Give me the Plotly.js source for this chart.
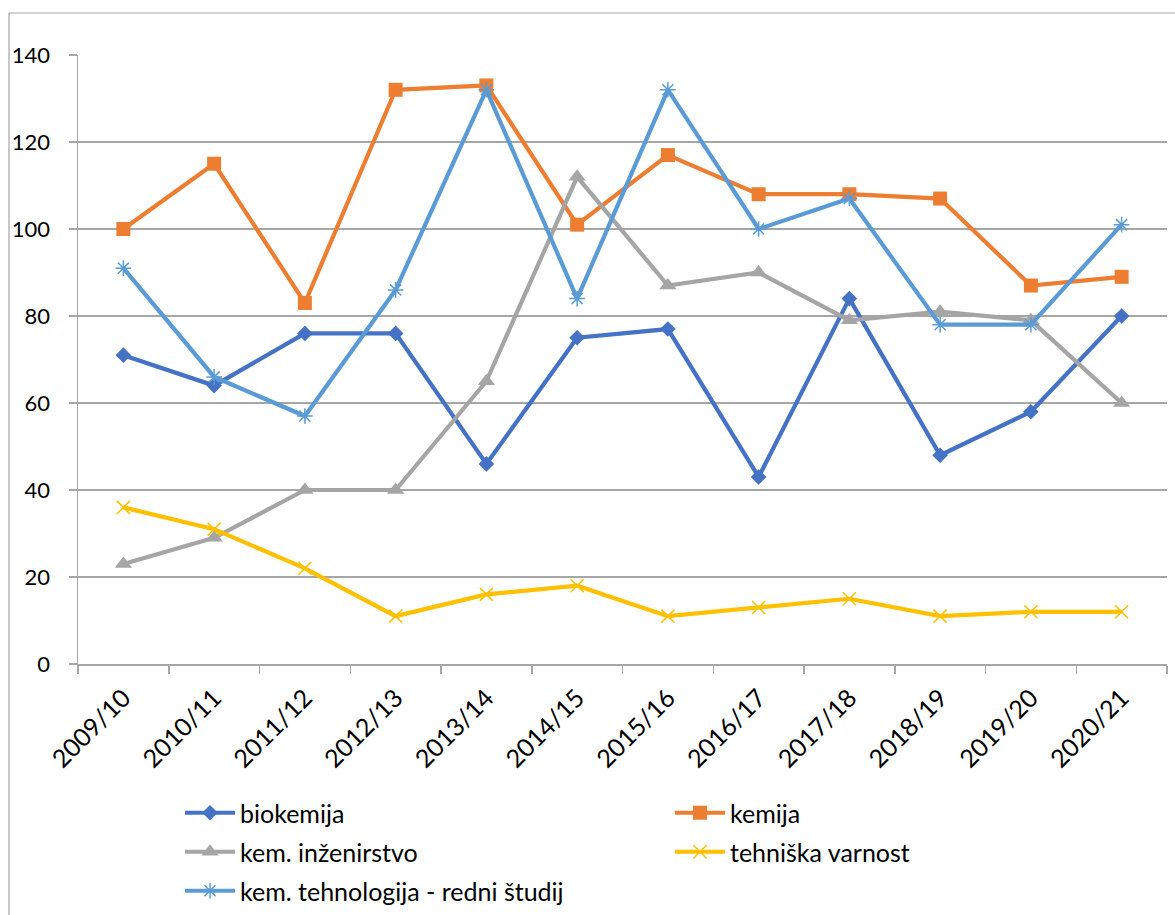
<!DOCTYPE html>
<html>
<head>
<meta charset="utf-8">
<script src="https://cdn.plot.ly/plotly-3.0.1.min.js"></script>
<style>html,body{margin:0;padding:0;background:#fff;}#chart{width:1175px;height:915px;}</style>
</head>
<body>
<div id="chart"></div>
<script>
const years = ["2009/10","2010/11","2011/12","2012/13","2013/14","2014/15","2015/16","2016/17","2017/18","2018/19","2019/20","2020/21"];
const biokemija = [71, 64, 76, 76, 46, 75, 77, 43, 84, 48, 58, 80];
const kemija = [100, 115, 83, 132, 133, 101, 117, 108, 108, 107, 87, 89];
const kemInzenirstvo = [23, 29, 40, 40, 65, 112, 87, 90, 79, 81, 79, 60];
const tehniskaVarnost = [36, 31, 22, 11, 16, 18, 11, 13, 15, 11, 12, 12];
const kemTehnologija = [91, 66, 57, 86, 132, 84, 132, 100, 107, 78, 78, 101];
const seriesNames = ["biokemija","kemija","kem. inženirstvo","tehniška varnost","kem. tehnologija - redni študij"];

const FONT = "Lato, 'Open Sans', sans-serif";
const W = 1175, H = 915, ML = 78, MR = 8, MT = 55, MB = 251;
const PW = W - ML - MR, PH = H - MT - MB;
const px2x = p => (p - ML) / PW;
const py2y = p => (H - MB - p) / PH;

function tr(y, name, color, symbol, msize, mline, legendId) {
  return {
    x: years, y: y, name: name, type: 'scatter', mode: 'lines+markers',
    line: {color: color, width: 4.2},
    marker: {symbol: symbol, size: msize, color: color, line: {color: color, width: mline}},
    legend: legendId
  };
}
const traces = [
  tr(biokemija, seriesNames[0], '#4472C4', 'diamond', 12, 0, 'legend'),
  tr(kemija, seriesNames[1], '#ED7D31', 'square', 14, 0, 'legend2'),
  tr(kemInzenirstvo, seriesNames[2], '#A5A5A5', 'triangle-up', 15, 0, 'legend3'),
  tr(tehniskaVarnost, seriesNames[3], '#FFC000', 'x-thin-open', 13, 1.5, 'legend4'),
  tr(kemTehnologija, seriesNames[4], '#5B9BD5', 'asterisk-open', 13, 1.5, 'legend5')
];

function leg(xpx, ypx) {
  return {xref: 'paper', yref: 'container', x: px2x(xpx), y: 1 - ypx / H,
    xanchor: 'left', yanchor: 'middle',
    font: {family: FONT, size: 25, color: '#000'}, bgcolor: 'rgba(0,0,0,0)',
    itemwidth: 50, borderwidth: 0};
}

const layout = {
  width: W, height: H,
  margin: {l: ML, r: MR, t: MT, b: MB, pad: 0},
  paper_bgcolor: '#fff', plot_bgcolor: '#fff',
  font: {family: FONT, size: 22, color: '#000'},
  showlegend: true,
  legend: leg(180, 813),
  legend2: leg(670, 813),
  legend3: leg(180, 852),
  legend4: leg(670, 852),
  legend5: leg(180, 891),
  xaxis: {
    type: 'category', range: [-0.5, 11.5], showgrid: false, zeroline: false,
    showline: true, linecolor: '#A6A6A6', linewidth: 1.5, automargin: false,
    ticks: 'outside', tickson: 'boundaries', ticklen: 8, tickcolor: '#A6A6A6', tickwidth: 1.5,
    tickangle: -45, ticklabelstandoff: 8,
    tickfont: {family: FONT, size: 25, color: '#000'}
  },
  yaxis: {
    range: [0, 140], dtick: 20, tick0: 0, showgrid: true, gridcolor: '#A6A6A6', gridwidth: 1.2,
    zeroline: false, showline: true, linecolor: '#A6A6A6', linewidth: 1.5, automargin: false,
    ticks: 'outside', ticklen: 8, tickcolor: '#A6A6A6', tickwidth: 1.5,
    ticklabelstandoff: 14,
    tickfont: {family: FONT, size: 22, color: '#000'}
  },
  shapes: [{
    type: 'rect', xref: 'paper', yref: 'paper',
    x0: px2x(9), x1: px2x(1185), y0: py2y(930), y1: py2y(13),
    line: {color: '#A6A6A6', width: 1.2}, fillcolor: 'rgba(0,0,0,0)', layer: 'below'
  }]
};

Plotly.newPlot('chart', traces, layout, {displayModeBar: false, staticPlot: true});
</script>
</body>
</html>
